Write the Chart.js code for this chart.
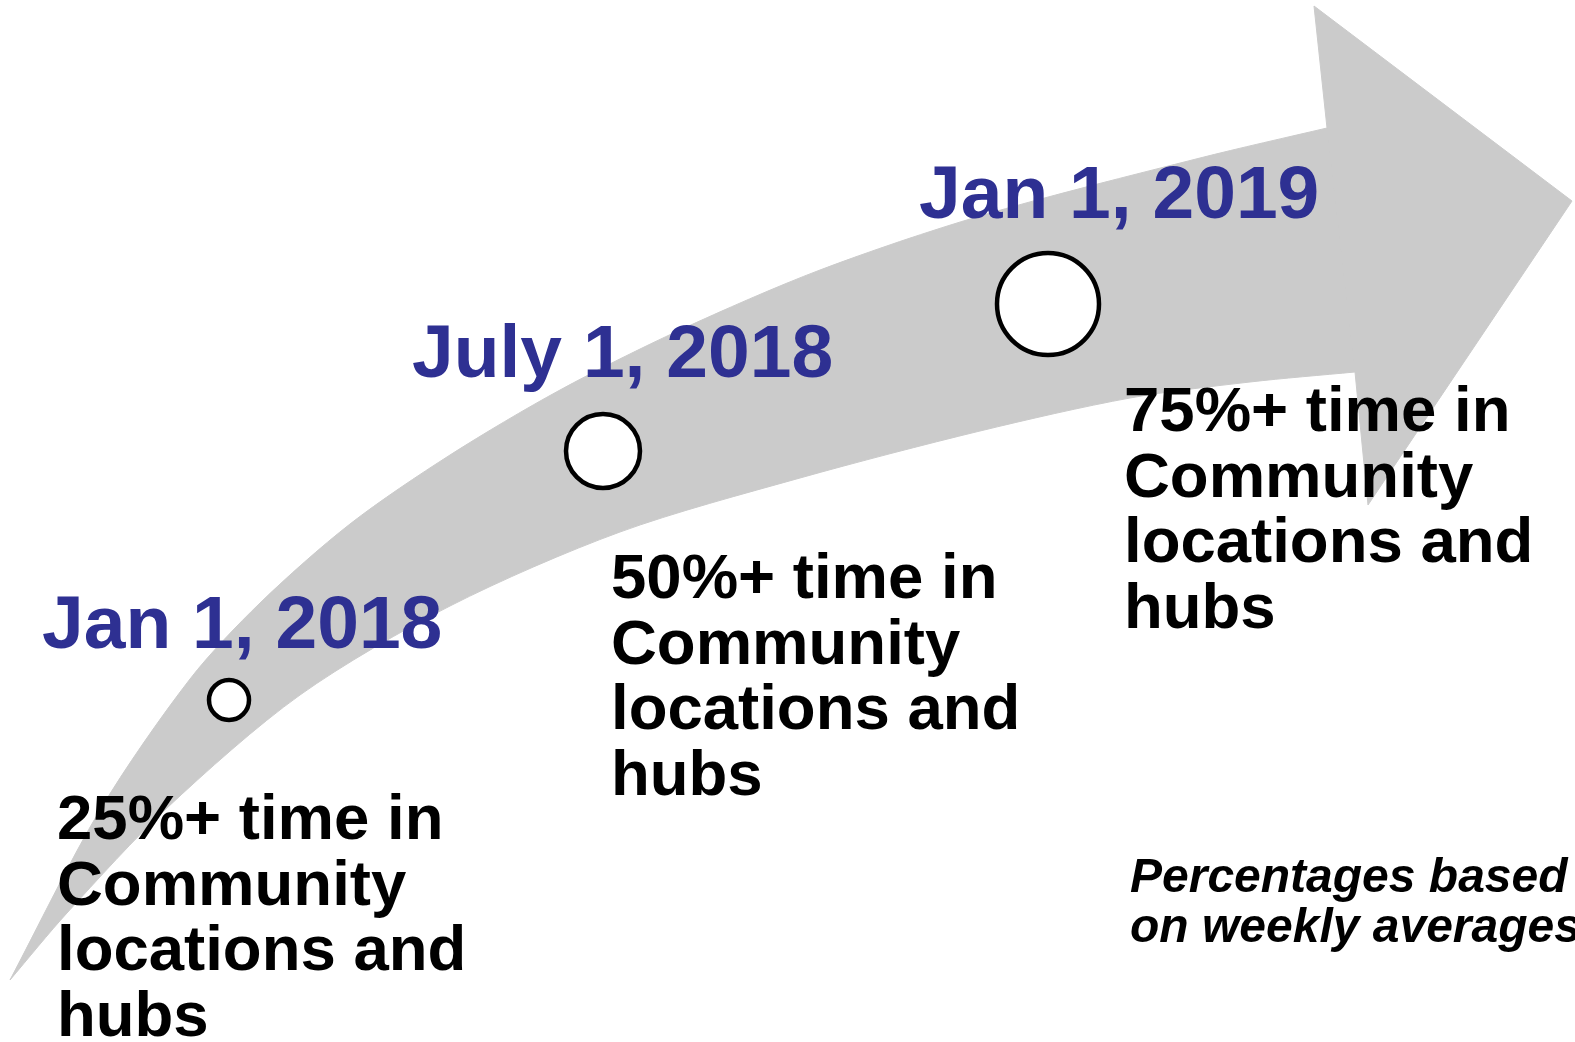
<!DOCTYPE html>
<html>
<head>
<meta charset="utf-8">
<title>Community time milestones</title>
<script src="https://cdn.jsdelivr.net/npm/chart.js@4.4.1/dist/chart.umd.min.js"></script>
<style>
  html, body { margin: 0; padding: 0; background: #fff; overflow: hidden; }
  #wrap { width: 1575px; height: 1042px; }
</style>
</head>
<body>
<div id="wrap"><canvas id="myChart"></canvas></div>
<script>
// Milestone values
const milestones = ['Jan 1, 2018', 'July 1, 2018', 'Jan 1, 2019']
const shares = [25, 50, 75]
const noteLines = ['Percentages based', 'on weekly averages']

// Where things sit in the frame (frame units = picture pixels)
const markerX = [229, 603, 1048]
const markerY = [700, 451, 304]
const markerR = [20, 37, 51]
const dateX = [42, 412, 919]
const dateY = [648, 377, 218]
const textX = [57, 611, 1124]
const textY = [839, 598, 431]
const noteX = 1130
const noteY = 892

// Arrow outline: body edges (curved) and head (straight)
const bodyTopX = [10, 100, 190, 260, 350, 450, 560, 680, 820, 980, 1200, 1327, 1345]
const bodyTopY = [980, 810, 679, 603, 524, 455, 390, 330, 270, 216, 158, 128, 124]
const bodyLowX = [1378, 1355, 1250, 1130, 980, 800, 620, 450, 300, 167, 67, 10]
const bodyLowY = [370, 372, 382, 398, 431, 478, 532, 606, 695, 808, 913, 980]
const headX = [1327, 1314, 1572, 1368, 1355, 1327]
const headY = [128, 6, 201, 505, 372, 128]

const arrowGray = '#CBCBCB'
const dateBlue = '#2E3092'

const toPoints = (xs, ys) => xs.map((v, i) => ({x: v, y: ys[i]}))
const bodyPoints = toPoints(bodyTopX, bodyTopY).concat(toPoints(bodyLowX, bodyLowY))

// Text on top of the marks
const labelPlugin = {
  id: 'milestoneLabels',
  afterDatasetsDraw(chart) {
    const {ctx, scales: {x, y}} = chart
    ctx.save()
    ctx.textAlign = 'left'
    ctx.textBaseline = 'alphabetic'
    milestones.forEach((m, i) => {
      ctx.fillStyle = dateBlue
      ctx.font = 'bold 75px "Liberation Sans", Arial, sans-serif'
      ctx.fillText(m, x.getPixelForValue(dateX[i]), y.getPixelForValue(dateY[i]))

      const lines = [shares[i] + '%+ time in', 'Community', 'locations and', 'hubs']
      ctx.fillStyle = '#000'
      ctx.font = 'bold 63.5px "Liberation Sans", Arial, sans-serif'
      lines.forEach((t, j) => {
        ctx.fillText(t, x.getPixelForValue(textX[i]), y.getPixelForValue(textY[i] + j * 65.5))
      })
    })
    ctx.font = 'italic bold 48px "Liberation Sans", Arial, sans-serif'
    noteLines.forEach((t, j) => {
      ctx.fillText(t, x.getPixelForValue(noteX), y.getPixelForValue(noteY + j * 50))
    })
    ctx.restore()
  }
}

const ctx = document.getElementById('myChart')

let myChart = new Chart(ctx, {
  type: 'bubble',
  data: {
    datasets: [
      {
        label: 'Milestones',
        data: markerX.map((v, i) => ({x: v, y: markerY[i], r: markerR[i]})),
        backgroundColor: '#fff',
        borderColor: '#000',
        borderWidth: 4.5,
        order: 1
      },
      {
        type: 'scatter',
        label: 'Arrow head',
        data: toPoints(headX, headY),
        showLine: true,
        tension: 0,
        pointRadius: 0,
        borderWidth: 1,
        borderColor: arrowGray,
        backgroundColor: arrowGray,
        fill: 'shape',
        order: 2
      },
      {
        type: 'scatter',
        label: 'Arrow body',
        data: bodyPoints,
        showLine: true,
        tension: 0.3,
        pointRadius: 0,
        borderWidth: 1,
        borderColor: arrowGray,
        backgroundColor: arrowGray,
        fill: 'shape',
        order: 3
      }
    ]
  },
  options: {
    responsive: true,
    maintainAspectRatio: false,
    animation: false,
    events: [],
    layout: { padding: 0, autoPadding: false },
    plugins: {
      legend: { display: false },
      tooltip: { enabled: false }
    },
    scales: {
      x: { type: 'linear', min: 0, max: 1575, display: false },
      y: { type: 'linear', min: 0, max: 1042, reverse: true, display: false }
    }
  },
  plugins: [labelPlugin]
});
</script>
</body>
</html>
